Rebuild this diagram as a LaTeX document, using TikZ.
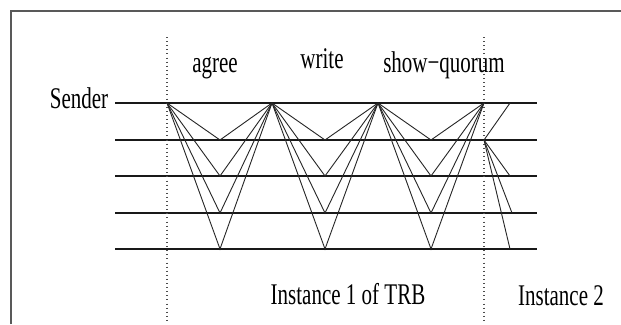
\documentclass[tikz,border=0pt]{standalone}
\usepackage{fontspec}
\setmainfont{Liberation Serif}
\newcommand{\nar}[1]{\scalebox{0.7}[1]{#1}}
\begin{document}
\begin{tikzpicture}[x=1pt,y=-1pt,
  lbl/.style={inner sep=0pt,anchor=base,font=\fontsize{30}{36}\selectfont},
  proc/.style={line width=1.3pt,black!90},
  msg/.style={line width=0.9pt,black!85},
  sep/.style={line width=1.1pt,black!70,dash pattern=on 1pt off 3.1pt},
  frame/.style={line width=1.6pt,black!65}]
\useasboundingbox (0,0) rectangle (621,324);
\fill[white] (0,0) rectangle (621,324);
% frame
\draw[frame] (11,324) -- (11,11) -- (621,11);
% process lines
\foreach \i/\y in {1/103,2/140,3/176,4/213,5/249}{
  \coordinate (L\i) at (115,\y);
  \coordinate (R\i) at (537,\y);
}
\foreach \i in {1,...,5}{ \draw[proc] (L\i) -- (R\i); }
% separators
\coordinate (s1t) at (167,37); \coordinate (s1b) at (167,320);
\coordinate (s2t) at (484,37); \coordinate (s2b) at (484,320);
\draw[sep] (s1t) -- (s1b);
\draw[sep] (s2t) -- (s2b);
% peaks and troughs
\coordinate (P0) at (167,103);
\coordinate (P1) at (272,103);
\coordinate (P2) at (378,103);
\coordinate (P3) at (484,103);
\foreach \k/\x in {1/220,2/325,3/431}{
  \coordinate (T\k a) at (\x,140);
  \coordinate (T\k b) at (\x,176);
  \coordinate (T\k c) at (\x,213);
  \coordinate (T\k d) at (\x,249);
}
\foreach \k/\p/\q in {1/P0/P1,2/P1/P2,3/P2/P3}{
  \foreach \t in {a,b,c,d}{
    \draw[msg] (\p) -- (T\k\t) -- (\q);
  }
}
% instance 2
\coordinate (Q0) at (510,103);
\coordinate (Q1) at (484,140);
\coordinate (Q2) at (510,176);
\coordinate (Q3) at (512,213);
\coordinate (Q4) at (510,249);
\draw[msg] (Q0) -- (Q1);
\draw[msg] (Q1) -- (Q2);
\draw[msg] (Q1) -- (Q3);
\draw[msg] (Q1) -- (Q4);
% labels
\node[lbl] (sender) at (79,108) {\nar{Sender}};
\node[lbl] (agree) at (215,72) {\nar{agree}};
\node[lbl] (write) at (322,68) {\nar{write}};
\node[lbl] (showq) at (444,72) {\nar{show−quorum}};
\node[lbl] (inst1) at (348,304) {\nar{Instance 1 of TRB}};
\node[lbl] (inst2) at (561,305) {\nar{Instance 2}};
\end{tikzpicture}
\end{document}
